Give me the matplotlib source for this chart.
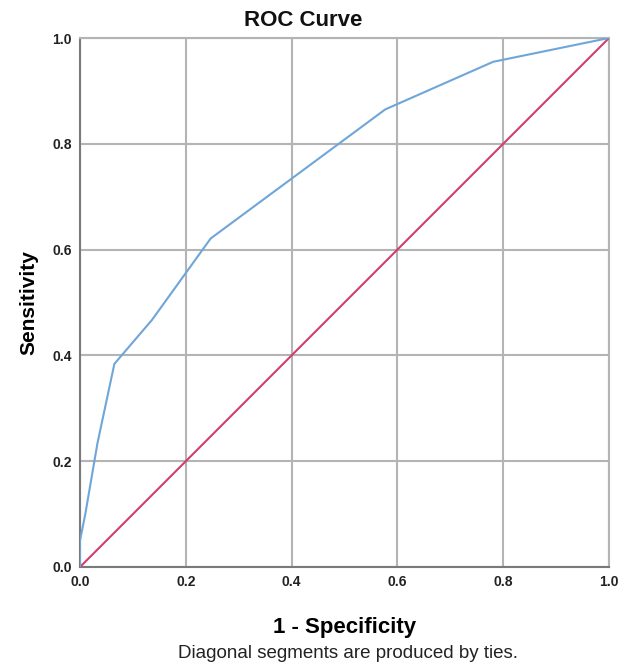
import matplotlib
matplotlib.use('Agg')
import matplotlib.pyplot as plt

# ROC curve points
fpr = [0.0, 0.0, 0.01, 0.033, 0.065, 0.136, 0.247, 0.577, 0.781, 1.0]
tpr = [0.0, 0.05, 0.10, 0.234, 0.384, 0.467, 0.621, 0.865, 0.955, 1.0]
refX = [0.0, 1.0]
refY = [0.0, 1.0]
ticks = [0.0, 0.2, 0.4, 0.6, 0.8, 1.0]
tickLabels = ['0.0', '0.2', '0.4', '0.6', '0.8', '1.0']

plt.rcParams['font.family'] = ['Liberation Sans', 'DejaVu Sans']

fig = plt.figure(figsize=(6.29, 6.65), dpi=100)
ax = fig.add_axes([80 / 629, 98 / 665, 529 / 629, 529 / 665])

ax.plot(refX, refY, color='#d0406a', linewidth=1.5, zorder=3)
ax.plot(fpr, tpr, color='#6fa6d9', linewidth=1.5, zorder=4)

ax.set_xlim(0, 1)
ax.set_ylim(0, 1)
ax.set_xticks(ticks)
ax.set_yticks(ticks)
ax.set_xticklabels(tickLabels, fontsize=10, fontweight='bold', color='#222222')
ax.set_yticklabels(tickLabels, fontsize=10, fontweight='bold', color='#222222')
ax.tick_params(length=0, pad=6)
ax.grid(True, color='#b4b4b4', linewidth=1.5)
ax.set_axisbelow(True)
for side in ['top', 'right']:
    ax.spines[side].set_color('#b4b4b4')
    ax.spines[side].set_linewidth(1.5)
for side in ['left', 'bottom']:
    ax.spines[side].set_color('#7a7a7a')
    ax.spines[side].set_linewidth(1.5)

# title sits a bit left of the axes centre in the original
fig.text(303 / 629, 1 - 20 / 665, 'ROC Curve', ha='center', va='center',
         fontsize=16, fontweight='bold', color='#111111')
ax.set_xlabel('1 - Specificity', fontsize=16, fontweight='bold', labelpad=20)
ax.set_ylabel('Sensitivity', fontsize=15, fontweight='bold', labelpad=10)
fig.text(348 / 629, 1 - 654 / 665, 'Diagonal segments are produced by ties.',
         ha='center', va='center', fontsize=13.5, color='#222222')

fig.savefig('out.png', dpi=100)
